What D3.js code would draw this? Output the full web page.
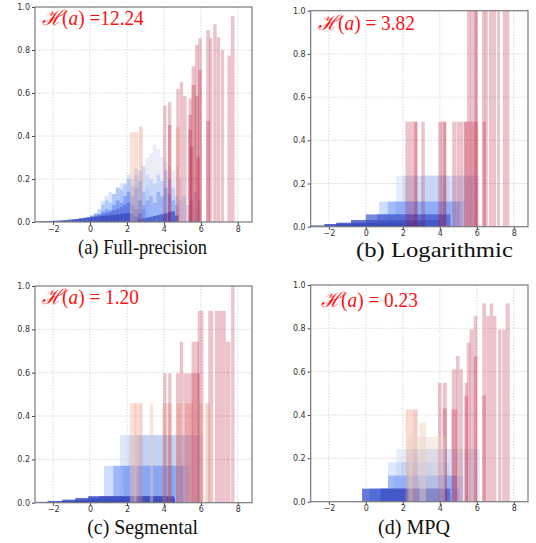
<!DOCTYPE html>
<html>
<head>
<meta charset="utf-8">
<script src="https://cdn.jsdelivr.net/npm/d3@7"></script>
<style>
  body { margin: 0; background: #fff; }
  svg { display: block; }
</style>
</head>
<body>
<div id="chart"></div>
<script>
// Activation histograms per channel, four quantizers

const xTicks = [-2, 0, 2, 4, 6, 8];
const yTicks = [0, 0.2, 0.4, 0.6, 0.8, 1.0];
const entropyValues = ["=12.24", "= 3.82", "= 1.20", "= 0.23"];
const captions = ["(a) Full-precision", "(b) Logarithmic", "(c) Segmental", "(d) MPQ"];

// full precision: blue channels as fine histograms {x0, step, tone, h}
const fullPrecisionHists = [
    {x0: -3.0, step: 0.2, tone: 0.0, h: [0.002, 0.003, 0.003, 0.004, 0.005, 0.006, 0.007, 0.008, 0.009, 0.011, 0.012, 0.014, 0.016, 0.018, 0.02, 0.022, 0.024, 0.026, 0.028, 0.03, 0.032, 0.034, 0.036, 0.038, 0.04, 0.041, 0.036, 0.025, 0.012]},
    {x0: 2.2, step: 0.2, tone: 0.02, h: [0.004, 0.008, 0.012, 0.016, 0.02, 0.024, 0.028, 0.032, 0.036, 0.04, 0.045, 0.05, 0.03]},
    {x0: -1.6, step: 0.2, tone: 0.08, h: [0.006, 0.008, 0.01, 0.012, 0.014, 0.017, 0.02, 0.023, 0.026, 0.03, 0.034, 0.038, 0.043, 0.048, 0.055, 0.062, 0.07, 0.08, 0.09, 0.08, 0.06, 0.04]},
    {x0: 0.0, step: 0.2, tone: 0.15, h: [0.03, 0.04, 0.035, 0.05, 0.06, 0.055, 0.08, 0.1, 0.09, 0.12, 0.14, 0.12, 0.16, 0.1, 0.06]},
    {x0: 0.4, step: 0.2, tone: 0.25, h: [0.06, 0.08, 0.1, 0.09, 0.13, 0.16, 0.15, 0.18, 0.2, 0.17, 0.22, 0.19, 0.14]},
    {x0: 0.6, step: 0.2, tone: 0.35, h: [0.1, 0.12, 0.14, 0.13, 0.16, 0.18, 0.17, 0.22, 0.2, 0.25, 0.24, 0.26, 0.22]},
    {x0: 2.6, step: 0.2, tone: 0.2, h: [0.06, 0.08, 0.1, 0.12, 0.09, 0.14, 0.12, 0.16, 0.13, 0.1, 0.08]},
    {x0: 2.8, step: 0.2, tone: 0.3, h: [0.12, 0.16, 0.2, 0.18, 0.22, 0.19, 0.24, 0.2, 0.16, 0.12]},
    {x0: 2.6, step: 0.2, tone: 0.45, h: [0.22, 0.26, 0.3, 0.32, 0.36, 0.34, 0.3, 0.28, 0.26, 0.24, 0.26, 0.2]},
    {x0: 4.8, step: 0.2, tone: 0.35, h: [0.1, 0.12, 0.08, 0.1, 0.14, 0.1]}
];

// spikes / flat bins: [x0, x1, height, tone]
const fullPrecisionBars = [
    [2.16, 2.38, 0.417, 0.65], [2.38, 2.6, 0.417, 0.68], [2.65, 2.85, 0.443, 0.85],
    [3.96, 4.14, 0.541, 1], [4.22, 4.4, 0.557, 1], [4.22, 4.4, 0.451, 1],
    [4.67, 4.85, 0.619, 1], [4.67, 4.85, 0.44, 0.85], [4.86, 5.04, 0.65, 1], [5.04, 5.23, 0.587, 1],
    [5.33, 5.51, 0.575, 1], [5.33, 5.51, 0.498, 1], [5.33, 5.51, 0.43, 1],
    [5.5, 5.71, 0.724, 1], [5.5, 5.71, 0.637, 1], [5.68, 5.89, 0.823, 1], [5.68, 5.89, 0.587, 1],
    [5.86, 6.05, 0.854, 1], [5.86, 6.05, 0.707, 1], [6.29, 6.5, 0.893, 1], [6.29, 6.5, 0.47, 1],
    [6.45, 6.62, 0.855, 1], [6.67, 6.85, 0.92, 1], [6.86, 7.04, 0.86, 1], [7.08, 7.26, 0.8, 1],
    [7.44, 7.62, 0.774, 1], [7.62, 7.82, 0.958, 1], [5.4, 5.6, 0.35, 1], [5.75, 5.95, 0.3, 1]
];

const logBars = [
    [-3.0, 1.5, 0.006, 0.0], [-2.24, 2.5, 0.0125, 0.0], [-1.6, 3.2, 0.0185, 0.0], [-0.8, 4.0, 0.031, 0.02],
    [0.0, 4.58, 0.057, 0.06], [0.6, 4.3, 0.057, 0.1],
    [0.72, 5.34, 0.116, 0.3], [1.18, 5.07, 0.116, 0.22], [1.6, 4.6, 0.116, 0.25],
    [1.63, 6.15, 0.236, 0.42], [2.0, 4.55, 0.236, 0.38], [3.2, 5.8, 0.236, 0.4],
    [2.14, 2.35, 0.486, 1], [2.35, 2.6, 0.486, 1], [2.6, 2.8, 0.486, 1], [2.62, 2.78, 0.486, 1],
    [3.0, 3.19, 0.486, 1], [3.91, 4.1, 0.486, 1], [4.05, 4.2, 0.486, 1], [4.18, 4.36, 0.486, 1], [4.2, 4.34, 0.486, 1],
    [4.67, 4.9, 0.486, 1], [4.92, 5.1, 0.486, 1], [5.1, 5.28, 0.486, 1],
    [5.3, 5.5, 0.486, 1], [5.32, 5.48, 0.486, 1], [5.5, 5.7, 0.486, 1], [5.7, 5.9, 0.486, 1], [5.9, 6.08, 0.486, 1],
    [6.32, 6.5, 0.486, 1],
    [5.47, 5.67, 1.0, 1], [5.65, 5.85, 1.0, 1], [5.85, 6.05, 1.0, 1], [5.87, 6.03, 1.0, 1],
    [6.28, 6.45, 1.0, 1], [6.42, 6.6, 1.0, 1], [6.66, 6.85, 1.0, 1], [6.85, 7.04, 1.0, 1],
    [7.1, 7.25, 1.0, 1], [7.4, 7.58, 1.0, 1], [7.58, 7.76, 1.0, 1]
];

const segmentalBars = [
    [-3.0, 4.6, 0.004, 0.0], [-2.3, 4.6, 0.008, 0.0], [-1.5, 4.5, 0.014, 0.0], [-0.8, 4.6, 0.022, 0.02],
    [-0.1, 4.55, 0.03, 0.0], [0.5, 4.2, 0.03, 0.05],
    [0.76, 5.4, 0.17, 0.3], [1.26, 5.05, 0.17, 0.2], [1.8, 4.6, 0.17, 0.22],
    [1.62, 6.1, 0.312, 0.38], [2.07, 4.6, 0.312, 0.36], [2.5, 5.5, 0.312, 0.38],
    [2.16, 2.5, 0.459, 0.65], [2.4, 2.62, 0.459, 0.7], [2.62, 2.85, 0.459, 0.8], [3.24, 3.42, 0.459, 0.62],
    [3.93, 4.15, 0.459, 0.8], [4.2, 4.41, 0.459, 0.85], [4.69, 4.96, 0.459, 0.8],
    [5.14, 5.35, 0.459, 0.85], [5.35, 5.6, 0.459, 0.85], [5.9, 6.1, 0.459, 0.8], [6.25, 6.49, 0.459, 0.8],
    [3.96, 4.14, 0.597, 1], [4.23, 4.41, 0.597, 1], [4.65, 4.86, 0.597, 1], [4.86, 5.04, 0.743, 1],
    [5.05, 5.32, 0.597, 1], [5.32, 5.5, 0.597, 1], [5.5, 5.7, 0.743, 1], [5.7, 5.9, 0.743, 1], [5.5, 5.95, 0.597, 1],
    [5.83, 6.0, 0.885, 1], [6.0, 6.14, 0.885, 1], [6.4, 6.67, 0.885, 1],
    [6.76, 6.95, 0.885, 1], [6.95, 7.15, 0.885, 1], [7.15, 7.35, 0.885, 1],
    [7.36, 7.6, 0.743, 1], [7.64, 7.82, 1.0, 1]
];

const mpqBars = [
    [-0.2, 4.58, 0.06, 0.05], [0.2, 4.4, 0.06, 0.1], [0.8, 4.0, 0.06, 0.02], [-0.2, 5.05, 0.06, 0.25],
    [1.2, 4.9, 0.12, 0.22], [1.5, 4.6, 0.12, 0.28], [1.2, 5.27, 0.12, 0.38],
    [1.2, 4.55, 0.182, 0.38], [1.9, 3.6, 0.182, 0.36],
    [1.65, 6.17, 0.243, 0.42], [2.2, 4.6, 0.243, 0.4], [2.3, 4.3, 0.3, 0.55],
    [2.16, 2.55, 0.426, 0.72], [2.55, 2.8, 0.426, 0.9], [4.63, 4.94, 0.426, 1], [2.9, 3.25, 0.365, 0.6],
    [3.9, 4.1, 0.549, 1], [4.16, 4.38, 0.549, 1], [4.16, 4.38, 0.43, 1],
    [4.65, 4.9, 0.611, 1], [4.88, 5.07, 0.672, 1], [5.07, 5.25, 0.611, 1],
    [5.34, 5.52, 0.549, 1], [5.34, 5.52, 0.488, 1], [5.46, 5.66, 0.734, 1], [5.61, 5.83, 0.795, 1],
    [5.83, 6.03, 0.857, 1], [5.83, 6.03, 0.67, 1], [6.3, 6.5, 0.915, 1], [6.3, 6.5, 0.49, 1],
    [6.51, 6.7, 0.857, 1], [6.7, 6.88, 0.915, 1], [6.88, 7.06, 0.857, 1],
    [7.15, 7.33, 0.795, 1], [7.38, 7.56, 0.795, 1], [7.56, 7.78, 0.915, 1]
];

// ---------- drawing ----------

const W = 536, H = 543;

// approximation of matplotlib "coolwarm"
const coolwarm = d3.scaleLinear()
    .domain([0, 1/7, 2/7, 3/7, 4/7, 5/7, 6/7, 1])
    .range(["#3b4cc0", "#6788ee", "#9abbff", "#c9d7f0", "#edd1c2", "#f7a889", "#e26952", "#b40426"])
    .interpolate(d3.interpolateRgb);

const alphaFor = d3.scaleLinear()
    .domain([0, 0.1, 0.3, 0.5, 0.65, 0.85, 1])
    .range([0.85, 0.7, 0.5, 0.38, 0.45, 0.3, 0.24])
    .clamp(true);

function histToBars(hists) {
    let out = [];
    hists.forEach(s => {
        s.h.forEach((v, i) => {
            out.push([s.x0 + i * s.step, s.x0 + (i + 1) * s.step, v, s.tone]);
        });
    });
    return out;
}

// blue channels below, warm channels on top; short (and darker) bins over tall ones
function drawOrder(bars) {
    let byHeight = (a, b) => (b[2] - a[2]) || (b[3] - a[3]);
    let cold = bars.filter(d => d[3] < 0.5).sort(byHeight);
    let warm = bars.filter(d => d[3] >= 0.5).sort(byHeight);
    return cold.concat(warm);
}

const panels = [
    {box: [35, 7, 217, 215], bars: histToBars(fullPrecisionHists).concat(fullPrecisionBars), titleX: 42, titleY: 25, titleW: 102, capX: 142.5, capY: 254, capW: 129},
    {box: [310.7, 10.7, 217.3, 216], bars: logBars, titleX: 318, titleY: 30, titleW: 97, capX: 434.5, capY: 256.5, capW: 157},
    {box: [35, 286, 217, 216.7], bars: segmentalBars, titleX: 42, titleY: 304, titleW: 97, capX: 142.7, capY: 533.5, capW: 111},
    {box: [310.7, 285, 217.3, 216.7], bars: mpqBars, titleX: 321, titleY: 307, titleW: 97, capX: 414, capY: 534, capW: 72}
];

const svg = d3.select("#chart").append("svg")
    .attr("width", W)
    .attr("height", H);

// squeeze a text horizontally to a measured width
function fitWidth(sel, x, y, target) {
    let len = sel.node().getComputedTextLength();
    sel.attr("transform", `translate(${x},${y}) scale(${target / len},1)`);
}

panels.forEach((p, i) => {
    let [left, top, w, h] = p.box;

    let x = d3.scaleLinear().domain([-2.98, 8.77]).range([0, w]);
    let y = d3.scaleLinear().domain([0, 1]).range([h, 0]);

    let g = svg.append("g").attr("transform", `translate(${left},${top})`);

    g.append("clipPath").attr("id", "clip" + i)
        .append("rect").attr("width", w).attr("height", h);

    // grid
    g.append("g").selectAll("line")
        .data(xTicks).join("line")
        .attr("x1", d => x(d)).attr("x2", d => x(d))
        .attr("y1", 0).attr("y2", h)
        .attr("stroke", "#cfcfcf").attr("stroke-width", 0.8)
        .attr("stroke-dasharray", "1.5,1.5");
    g.append("g").selectAll("line")
        .data(yTicks.slice(1, -1)).join("line")
        .attr("x1", 0).attr("x2", w)
        .attr("y1", d => y(d)).attr("y2", d => y(d))
        .attr("stroke", "#cfcfcf").attr("stroke-width", 0.8)
        .attr("stroke-dasharray", "1.5,1.5");

    // bars
    g.append("g").attr("clip-path", `url(#clip${i})`)
        .selectAll("rect")
        .data(drawOrder(p.bars)).join("rect")
        .attr("x", d => x(d[0]))
        .attr("width", d => x(d[1]) - x(d[0]))
        .attr("y", d => y(d[2]))
        .attr("height", d => y(0) - y(d[2]))
        .attr("fill", d => coolwarm(d[3]))
        .attr("fill-opacity", d => alphaFor(d[3]));

    // axes
    let xAxis = d3.axisBottom(x).tickValues(xTicks).tickSize(3).tickPadding(1);
    let yAxis = d3.axisLeft(y).tickValues(yTicks).tickFormat(d3.format(".1f")).tickSize(3).tickPadding(2);

    let gx = g.append("g").attr("transform", `translate(0,${h})`).call(xAxis);
    let gy = g.append("g").call(yAxis);
    [gx, gy].forEach(a => {
        a.select(".domain").remove();
        a.selectAll("line").attr("stroke", "#444");
        a.selectAll("text")
            .attr("fill", "#333")
            .style("font-family", "DejaVu Sans, sans-serif")
            .style("font-size", "8px");
    });

    // frame
    g.append("rect")
        .attr("width", w).attr("height", h)
        .attr("fill", "none")
        .attr("stroke", "#7a7a7a")
        .attr("stroke-width", 1.2);

    // entropy label
    let t = svg.append("text")
        .attr("fill", "#ff1010")
        .style("font-family", "Liberation Serif, DejaVu Serif, serif")
        .style("font-size", "21px");
    t.append("tspan").style("font-style", "italic").text("\u210B");
    t.append("tspan").text("(");
    t.append("tspan").style("font-style", "italic").text("a");
    t.append("tspan").text(") " + entropyValues[i]);
    fitWidth(t, p.titleX, p.titleY, p.titleW);

    // caption
    let c = svg.append("text")
        .attr("fill", "#111")
        .style("font-family", "Liberation Serif, Times New Roman, serif")
        .style("font-size", "21.5px")
        .text(captions[i]);
    fitWidth(c, p.capX - p.capW / 2, p.capY, p.capW);
});
</script>
</body>
</html>
